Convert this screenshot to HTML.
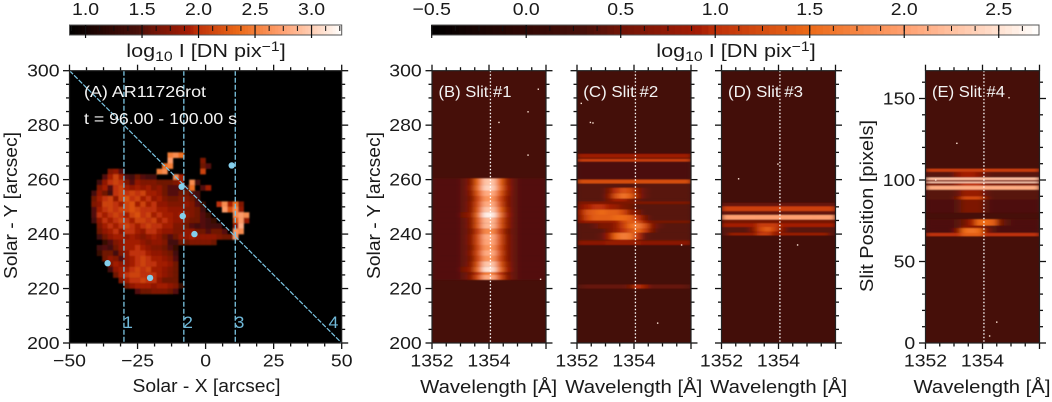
<!DOCTYPE html>
<html lang="en">
<head>
<meta charset="utf-8">
<title>Slit spectra panels</title>
<style>
html,body{margin:0;padding:0;background:#fff;width:1052px;height:402px;overflow:hidden}
svg{display:block}
text{font-family:"Liberation Sans",sans-serif;fill:#1a1a1a}
</style>
</head>
<body>
<svg id="figure" xmlns="http://www.w3.org/2000/svg" width="1052" height="402" viewBox="0 0 1052 402">
  <defs>
    <filter id="hblur" x="-10%" y="-2%" width="120%" height="104%"><feGaussianBlur stdDeviation="2.8 0.45"/></filter>
    <filter id="ablur" x="-5%" y="-5%" width="110%" height="110%"><feGaussianBlur stdDeviation="0.85"/></filter>
  </defs>
  <g id="layer"></g>
  <text transform="translate(206 57) scale(1.17 1)" text-anchor="middle" font-size="18.5">log<tspan font-size="13.5" dy="4">10</tspan><tspan dy="-4"> I [DN pix</tspan><tspan font-size="13.5" dy="-6">−1</tspan><tspan dy="6">]</tspan></text>
  <text transform="translate(736 57) scale(1.17 1)" text-anchor="middle" font-size="18.5">log<tspan font-size="13.5" dy="4">10</tspan><tspan dy="-4"> I [DN pix</tspan><tspan font-size="13.5" dy="-6">−1</tspan><tspan dy="6">]</tspan></text>
  <text x="206.5" y="392" text-anchor="middle" font-size="18.5" textLength="148" lengthAdjust="spacingAndGlyphs">Solar - X [arcsec]</text>
  <text transform="translate(17 205.5) rotate(-90)" text-anchor="middle" font-size="18.5" textLength="147" lengthAdjust="spacingAndGlyphs">Solar - Y [arcsec]</text>
  <text transform="translate(380 205.5) rotate(-90)" text-anchor="middle" font-size="18.5" textLength="147" lengthAdjust="spacingAndGlyphs">Solar - Y [arcsec]</text>
  <text transform="translate(873 206) rotate(-90)" text-anchor="middle" font-size="18.5" textLength="172" lengthAdjust="spacingAndGlyphs">Slit Position [pixels]</text>
  <text x="488.7" y="393" text-anchor="middle" font-size="18.5" textLength="137" lengthAdjust="spacingAndGlyphs">Wavelength [Å]</text>
  <text x="633.8" y="393" text-anchor="middle" font-size="18.5" textLength="137" lengthAdjust="spacingAndGlyphs">Wavelength [Å]</text>
  <text x="778.7" y="393" text-anchor="middle" font-size="18.5" textLength="137" lengthAdjust="spacingAndGlyphs">Wavelength [Å]</text>
  <text x="982" y="393" text-anchor="middle" font-size="18.5" textLength="137" lengthAdjust="spacingAndGlyphs">Wavelength [Å]</text>
  <text x="84" y="97" font-size="16" textLength="122" lengthAdjust="spacingAndGlyphs" style="fill:#f4f4f4">(A) AR11726rot</text>
  <text x="84" y="124" font-size="16" textLength="153" lengthAdjust="spacingAndGlyphs" style="fill:#f4f4f4">t = 96.00 - 100.00 s</text>
  <text x="438.5" y="97" font-size="16" textLength="73" lengthAdjust="spacingAndGlyphs" style="fill:#f4f4f4">(B) Slit #1</text>
  <text x="583.3" y="97" font-size="16" textLength="75" lengthAdjust="spacingAndGlyphs" style="fill:#f4f4f4">(C) Slit #2</text>
  <text x="728" y="97" font-size="16" textLength="75" lengthAdjust="spacingAndGlyphs" style="fill:#f4f4f4">(D) Slit #3</text>
  <text x="932" y="97" font-size="16" textLength="73" lengthAdjust="spacingAndGlyphs" style="fill:#f4f4f4">(E) Slit #4</text>
</svg>
<script>
// ---- colour bars ----
const barAMin = 0.858, barAMax = 3.267;
const barBMin = -0.5, barBMax = 2.713;
const barATicks = [1.0, 1.5, 2.0, 2.5, 3.0];
const barBTicks = [-0.5, 0.0, 0.5, 1.0, 1.5, 2.0, 2.5];

// ---- panel A ----
const xTicksA = [-50, -25, 0, 25, 50];
const yTicksA = [200, 220, 240, 260, 280, 300];
const imageFirstX = -42;
const imageTopY = 270;
const imageCellSize = 2;
// log10 I × 10, one row per 2 arcsec from Y=270 downward, one column per 2 arcsec from X=-42
const imageRows = [
[0,0,0,0,0,0,0,0,0,0,0,0,0,0,25,26,24],
[0,0,0,0,0,0,0,0,0,0,0,0,0,0,27,0,0,0,0,0,17],
[0,0,0,0,0,0,0,0,0,0,0,0,0,24,25,0,0,0,0,0,16,15],
[0,0,0,17,18,15,0,0,0,0,0,0,25,26,0,0,0,0,0,0,21],
[0,0,15,19,21,19,15,14,16,15,14,14,0,0,0,26,19],
[0,14,18,20,21,20,17,15,18,17,17,17,16,16,16,17,19,0,26,14],
[0,17,19,15,20,21,19,18,19,18,19,17,18,16,15,15,14,14,24,0,15,19],
[14,18,16,14,20,21,20,21,20,21,19,19,18,16,15,15,16,16,15,14],
[16,19,20,21,18,21,22,20,21,19,20,18,19,17,16,16,17,17,16,14],
[17,18,21,21,20,19,21,22,19,21,19,20,18,18,17,17,17,18,17,15,13,0,0,20,26,19,24,17],
[15,19,20,21,20,21,21,22,21,20,20,20,19,19,18,18,18,17,17,16,14,0,0,0,27,22,26,18],
[15,20,19,20,21,20,19,21,22,20,21,19,20,19,19,18,19,18,17,16,15,13,0,0,0,0,26,27,26],
[14,18,20,19,20,21,20,19,21,21,20,21,19,20,19,18,18,17,16,16,15,14,13,0,0,0,22,27,18],
[0,17,19,20,19,20,21,20,19,20,21,20,20,19,19,17,17,16,15,14,15,14,14,14,0,0,18,28],
[0,16,18,19,20,18,20,20,19,18,20,20,19,18,18,17,17,18,18,16,16,15,16,16,15,0,27,26],
[0,14,16,18,19,19,18,19,18,17,18,19,18,16,15,16,18,18,19,18,18,18,18,17,16,16,27],
[0,0,13,15,17,18,19,19,19,18,17,18,18,17,14,14,16,16,17,17,17,17,16],
[0,14,15,14,16,18,19,19,20,19,18,17,17,16,15,13],
[0,13,16,16,14,17,18,20,20,20,19,18,18,17,16,14],
[0,0,16,18,17,15,18,19,20,21,20,19,19,18,17,15],
[0,0,0,17,19,18,18,19,20,21,20,20,19,19,18,16],
[0,0,0,14,18,19,19,20,21,20,21,19,19,18,17,16],
[0,0,0,0,16,19,20,21,21,20,20,20,19,18,17,16],
[0,0,0,0,0,17,19,20,20,21,20,20,18,16,16,16],
[0,0,0,0,0,0,16,18,19,19,19,18,19,19,18,17,13],
[0,0,0,0,0,0,0,0,15,16,16,17,17,17,16,15]
];
const slitPositionsX = [-30, -8, 10.9];
const slitLabels = ["1", "2", "3", "4"];
const slitLabelX = [128, 188, 239.5, 333.5];
const diagonalStart = [-50, 300];
const diagonalEnd = [50, 200];
const markersX = [-36, -20.4, -4.1, -8.4, -8.8, 9.6];
const markersY = [229.3, 223.9, 240, 246.6, 257.4, 265.2];

// ---- spectral panels ----
const waveTicks = [1352, 1354, 1356];
const waveTickLabels = ["1352", "1354"];
const restWavelength = 1354.05;
const yTicksE = [0, 50, 100, 150];
// each row: [low, high, sixteen log10 I values across 1352–1356 Å]
const slit1Background = 0.27;
const slit1Rows = [
[258,260.5,[.35,.35,.35,.35,.45,.7,1.5,2.3,2.3,1.5,.8,.45,.35,.35,.35,.35]],
[256,258,[.35,.35,.35,.35,.45,.8,1.6,2.4,2.4,1.6,.9,.45,.35,.35,.35,.35]],
[254,256,[.35,.35,.35,.35,.45,.7,1.4,2.1,2.1,1.4,.8,.45,.35,.35,.35,.35]],
[252,254,[.35,.35,.35,.35,.45,.6,1.2,1.9,1.9,1.2,.7,.45,.35,.35,.35,.35]],
[250,252,[.35,.35,.35,.35,.45,.7,1.3,2.1,2.1,1.3,.7,.45,.35,.35,.35,.35]],
[248,250,[.35,.35,.35,.35,.45,.7,1.4,2.3,2.3,1.5,.8,.45,.35,.35,.35,.35]],
[246,248,[.35,.35,.35,.35,.6,.8,1.6,2.6,2.6,1.7,.9,.45,.35,.35,.35,.35]],
[244,246,[.35,.35,.35,.35,.45,.7,1.4,2.2,2.2,1.4,.8,.45,.35,.35,.35,.35]],
[242,244,[.35,.35,.35,.35,.45,.7,1.4,2.2,2.2,1.4,.8,.45,.35,.35,.35,.35]],
[240,242,[.35,.35,.35,.35,.45,.6,1.1,1.8,1.8,1.1,.6,.45,.35,.35,.35,.35]],
[238,240,[.35,.35,.35,.35,.45,.7,1.3,2.1,2.1,1.3,.7,.45,.35,.35,.35,.35]],
[236,238,[.35,.35,.35,.35,.45,.7,1.3,2.05,2.05,1.3,.7,.45,.35,.35,.35,.35]],
[234,236,[.35,.35,.35,.35,.45,.6,1.2,1.9,1.9,1.2,.7,.45,.35,.35,.35,.35]],
[232,234,[.35,.35,.35,.35,.45,.7,1.3,2.1,2.1,1.3,.7,.45,.35,.35,.35,.35]],
[230,232,[.35,.35,.35,.35,.45,.6,1.2,1.9,1.9,1.2,.7,.45,.35,.35,.35,.35]],
[228,230,[.35,.35,.35,.35,.45,.7,1.4,2.3,2.3,1.4,.8,.45,.35,.35,.35,.35]],
[226,228,[.35,.35,.35,.35,.6,.8,1.6,2.5,2.5,1.6,.9,.45,.35,.35,.35,.35]],
[225,226,[.35,.35,.35,.35,.45,.6,1.0,1.7,1.7,1.0,.6,.45,.35,.35,.35,.35]],
[223.2,225,[.35,.35,.35,.35,.45,.7,1.3,2.1,2.1,1.3,.7,.45,.35,.35,.35,.35]]
];
const slit1SpecksWave = [1355.73, 1355.37, 1354.35, 1355.37, 1355.81];
const slit1SpecksY = [293.2, 284.9, 281, 269, 223.4];

const slit2Background = 0.25;
const slit2Rows = [
[268,269.5,[.85,.85,.85,.85,.85,.85,.85,.85,.85,.85,.85,.85,.85,.85,.85,.85]],
[267.6,268,[.45,.45,.45,.45,.45,.45,.45,.45,.45,.45,.45,.45,.45,.45,.45,.45]],
[266.6,267.6,[1.1,1.1,1.1,1.1,1.1,1.1,1.1,1.1,1.1,1.1,1.1,1.1,1.1,1.1,1.1,1.1]],
[260,266.6,[.32,.32,.32,.32,.32,.32,.32,.32,.32,.32,.32,.32,.32,.32,.32,.32]],
[258.6,260,[1.25,1.25,1.25,1.25,1.25,1.25,1.25,1.25,1.25,1.25,1.25,1.25,1.25,1.25,1.25,1.25]],
[257,258.6,[.38,.38,.38,.38,.38,.38,.38,.38,.38,.38,.38,.38,.38,.38,.38,.38]],
[255,257,[.38,.38,.38,.38,.6,1.0,1.3,1.2,.7,.45,.38,.38,.38,.38,.38,.38]],
[253,255,[.38,.38,.38,.38,.7,1.3,1.6,1.4,.8,.45,.38,.38,.38,.38,.38,.38]],
[252,253,[.38,.38,.38,.38,.6,.9,.9,.6,.45,.38,.38,.38,.38,.38,.38,.38]],
[251,252,[.6,.6,.6,.6,.6,.6,.6,.6,.6,.6,.6,.6,.6,.6,.6,.6]],
[249,251,[.7,.9,1.0,1.0,.9,.8,.6,.5,.38,.38,.38,.38,.38,.38,.38,.38]],
[247,249,[.9,1.3,1.4,1.5,1.4,1.4,1.2,.8,.6,.38,.38,.38,.38,.38,.38,.38]],
[245,247,[.8,1.2,1.4,1.4,1.4,1.5,1.5,1.4,1.0,.6,.38,.38,.38,.38,.38,.38]],
[244,245,[.7,.8,.8,.8,.8,.9,1.2,1.4,1.3,.9,.55,.55,.55,.55,.55,.55]],
[242,244,[.38,.38,.45,.6,.6,.8,1.1,1.5,1.7,1.3,.7,.45,.38,.38,.38,.38]],
[240.5,242,[.38,.38,.38,.38,.6,.8,1.0,1.3,1.5,1.1,.6,.38,.38,.38,.38,.38]],
[238,240.5,[.38,.38,.38,.45,.9,1.5,1.7,1.6,1.0,.45,.38,.38,.38,.38,.38,.38]],
[237.5,238,[.45,.45,.45,.45,.6,.8,.9,.8,.6,.45,.45,.45,.45,.45,.45,.45]],
[236,237.5,[.7,.7,.7,.7,.8,.8,.8,.8,.8,.7,.7,.7,.7,.7,.7,.7]],
[220,221.5,[.4,.45,.45,.45,.45,.45,.45,.55,1.0,.8,.45,.45,.45,.45,.45,.4]]
];
const slit2SpecksWave = [1352.15, 1352.47, 1352.56, 1355.67, 1354.83];
const slit2SpecksY = [288, 281, 280.8, 236, 207.3];

const slit3Background = 0.23;
const slit3Rows = [
[250.2,251.5,[.45,.45,.45,.45,.45,.45,.45,.45,.45,.45,.45,.45,.45,.45,.45,.45]],
[248.4,250.2,[1.15,1.15,1.15,1.15,1.15,1.15,1.15,1.15,1.15,1.15,1.15,1.15,1.15,1.15,1.15,1.15]],
[247,248.4,[.45,.45,.45,.45,.45,.45,.45,.45,.45,.45,.45,.45,.45,.45,.45,.45]],
[245.3,247,[2.0,2.0,2.0,2.0,2.0,2.0,2.0,2.0,2.0,2.0,2.0,2.0,2.0,2.0,2.0,2.0]],
[244,245.3,[.55,.55,.55,.55,.55,.55,.55,.55,.55,.55,.55,.55,.55,.55,.55,.55]],
[242.6,244,[.9,.9,.9,.9,.9,1.1,1.1,1.1,.9,.9,.9,.9,.9,.9,.9,.9]],
[241,242.6,[.38,.38,.38,.38,.7,1.2,1.4,1.1,.7,.38,.38,.38,.38,.38,.38,.38]],
[240.5,241,[.38,.38,.38,.38,.6,1.0,1.2,.9,.6,.38,.38,.38,.38,.38,.38,.38]],
[239.5,240.5,[.38,.8,.8,.8,.8,1.1,1.1,.8,.8,.8,.8,.8,.8,.8,.8,.38]]
];
const slit3SpecksWave = [1353.98, 1352.6, 1354.67];
const slit3SpecksY = [265.7, 260.3, 236];

const slit4Background = 0.27;
const slit4Rows = [
[105,107,[1.1,1.1,1.1,1.1,1.1,1.1,1.1,1.1,1.1,1.1,1.1,1.1,1.1,1.1,1.1,1.1]],
[101.5,105,[.38,.38,.38,.38,.7,.9,.9,.7,.45,.38,.38,.38,.38,.38,.38,.38]],
[100,101.5,[2.25,2.25,2.25,2.25,2.25,2.25,2.25,2.25,2.25,2.25,2.25,2.25,2.25,2.25,2.25,2.25]],
[99,100,[.6,.6,.6,.6,.6,.6,.6,.6,.6,.6,.6,.6,.6,.6,.6,.6]],
[98,99,[2.35,2.35,2.35,2.35,2.35,2.35,2.35,2.35,2.35,2.35,2.35,2.35,2.35,2.35,2.35,2.35]],
[96.5,98,[.6,.6,.6,.6,.8,1.0,1.0,1.0,.7,.6,.6,.6,.6,.6,.6,.6]],
[94,96.5,[2.1,2.1,2.1,2.1,2.1,2.1,2.1,2.1,2.1,2.1,2.1,2.1,2.1,2.1,2.1,2.1]],
[90,94,[.38,.38,.38,.38,.45,.8,.8,.8,.45,.38,.38,.38,.38,.38,.38,.38]],
[88,90,[.38,.38,.38,.38,.6,1.2,1.2,1.2,.6,.38,.38,.38,.38,.38,.38,.38]],
[80,88,[.33,.33,.33,.33,.38,.6,.6,.6,.38,.33,.33,.33,.33,.33,.33,.33]],
[72,76,[.33,.33,.33,.33,.38,.5,.9,1.5,1.5,1.4,.6,.38,.33,.33,.33,.33]],
[70.5,72,[.33,.33,.33,.33,.38,.7,.7,.7,.45,.38,.33,.33,.33,.33,.33,.33]],
[67.5,70.5,[.33,.33,.33,.33,.7,1.5,1.6,1.5,.7,.38,.33,.33,.33,.33,.33,.33]],
[65.5,67.5,[1.0,1.0,1.0,1.0,1.0,1.4,1.4,1.4,1.0,1.0,1.0,1.0,1.0,1.0,1.0,1.0]]
];
const slit4SpecksWave = [1354.93, 1353.1, 1352.36, 1354.5, 1354.25];
const slit4SpecksY = [150.5, 122.5, 100, 12.8, 4.3];

// ---- helpers ----
const NS = "http://www.w3.org/2000/svg";
const layer = document.getElementById("layer");
const stopT = [0, .156, .25, .31, .44, .467, .623, .78, .935, 1];
const stopR = [0, 50, 72, 112, 165, 190, 236, 255, 255, 255];
const stopG = [0, 8, 16, 20, 28, 48, 106, 160, 226, 255];
const stopB = [0, 4, 10, 6, 4, 8, 24, 112, 210, 255];
function cmap(t) {
  t = Math.max(0, Math.min(1, t));
  let i = 0;
  while (i < stopT.length - 2 && t > stopT[i + 1]) i++;
  const f = (t - stopT[i]) / (stopT[i + 1] - stopT[i]);
  const c = a => Math.round(a[i] + (a[i + 1] - a[i]) * f);
  return "rgb(" + c(stopR) + "," + c(stopG) + "," + c(stopB) + ")";
}
function colorA(v) { return cmap((v - barAMin) / (barAMax - barAMin)); }
function colorB(v) { return cmap((v - barBMin) / (barBMax - barBMin)); }
function make(parent, tag, attrs) {
  const el = document.createElementNS(NS, tag);
  for (const k in attrs) el.setAttribute(k, attrs[k]);
  parent.appendChild(el);
  return el;
}
function line(parent, x1, y1, x2, y2, stroke, width, name) {
  const el = make(parent, "line", { x1: x1, y1: y1, x2: x2, y2: y2, stroke: stroke, "stroke-width": width });
  
  
  return el;
}
function label(parent, x, y, str, anchor, size, name, fill) {
  const el = make(parent, "text", { transform: "translate(" + x + " " + y + ") scale(1.08 1)", "text-anchor": anchor, "font-size": size });
  el.textContent = str;
  if (fill) el.style.fill = fill;
  
  
  return el;
}
function fmtMinus(v) { return String(v).replace("-", "−"); }

const TOP = 70.7, BOTTOM = 343;
const xA = X => 69.5 + (X + 50) * 2.722;
const yArc = Y => BOTTOM - (Y - 200) * 2.723;
const yPix = P => BOTTOM - P * 1.63;
const PANEL_W = 114;
const waveScale = x0 => w => x0 + (w - 1352) * (PANEL_W / 4);

function drawColorbar(x0, x1, vMin, vMax, ticks, colorFn, name) {
  const g = make(layer, "g", {});
  
  
  const xOf = v => x0 + (v - vMin) / (vMax - vMin) * (x1 - x0);
  const n = 90;
  for (let i = 0; i < n; i++) {
    const v = vMin + (i + .5) / n * (vMax - vMin);
    const r = make(g, "rect", { x: x0 + i / n * (x1 - x0), y: 25, width: (x1 - x0) / n + .4, height: 10, fill: colorFn(v) });
    
    
  }
  make(g, "rect", { x: x0, y: 25, width: x1 - x0, height: 10, fill: "none", stroke: "#555", "stroke-width": 1 });
  const step = ticks[1] - ticks[0];
  for (let v = ticks[0] - step; v <= vMax + 1e-6; v += step / 4) {
    if (v < vMin - 1e-6) continue;
    line(g, xOf(v), 26, xOf(v), 31, "#111", 1, "colorbar-minor-tick");
  }
  ticks.forEach(v => {
    line(g, xOf(v), 25, xOf(v), 38, "#111", 1.2, "colorbar-major-tick");
    label(g, xOf(v), 15, fmtMinus(v.toFixed(1)), "middle", 18, "colorbar-tick-label");
  });
}

function drawFrame(parent, x0, x1, xOf, xMajor, xMinorStep, xMin, xMax, yOf, yMajor, yMinorStep, yMin, yMax) {
  for (let v = xMin; v <= xMax + 1e-6; v += xMinorStep) {
    const major = xMajor.some(m => Math.abs(m - v) < 1e-6);
    const len = major ? 6 : 3.5;
    line(parent, xOf(v), TOP, xOf(v), TOP - len, "#111", 1.3, "x-tick-top");
    line(parent, xOf(v), BOTTOM, xOf(v), BOTTOM + len, "#111", 1.3, "x-tick-bottom");
  }
  for (let v = yMin; v <= yMax + 1e-6; v += yMinorStep) {
    const major = yMajor.some(m => Math.abs(m - v) < 1e-6);
    const len = major ? 6.5 : 3.5;
    line(parent, x0, yOf(v), x0 - len, yOf(v), "#111", 1.3, "y-tick-left");
    line(parent, x1, yOf(v), x1 + len, yOf(v), "#111", 1.3, "y-tick-right");
  }
  const f = make(parent, "rect", { x: x0, y: TOP, width: x1 - x0, height: BOTTOM - TOP, fill: "none", stroke: "#222", "stroke-width": 1.2 });
  
  
}

function drawPanelA() {
  const g = make(layer, "g", {});
  
  
  const bg = make(g, "rect", { x: xA(-50), y: TOP, width: xA(50) - xA(-50), height: BOTTOM - TOP, fill: "#000" });
  
  
  const cells = make(g, "g", { filter: "url(#ablur)" });
  imageRows.forEach((row, j) => {
    row.forEach((val, i) => {
      if (!val) return;
      const X = imageFirstX + i * imageCellSize;
      const Y = imageTopY - j * imageCellSize;
      const c = make(cells, "rect", {
        x: xA(X), y: yArc(Y),
        width: xA(X + imageCellSize) - xA(X) + .2,
        height: yArc(Y - imageCellSize) - yArc(Y) + .2,
        fill: colorA(val / 10)
      });
      
      
    });
  });
  const cyan = "#7cc6e4";
  slitPositionsX.forEach(X => {
    const l = line(g, xA(X), TOP, xA(X), BOTTOM, cyan, 1.3, "slit-line");
    l.setAttribute("stroke-dasharray", "5 2");
  });
  const d = line(g, xA(diagonalStart[0]), yArc(diagonalStart[1]), xA(diagonalEnd[0]), yArc(diagonalEnd[1]), cyan, 1.2, "slit-line-diagonal");
  d.setAttribute("stroke-dasharray", "5 1.5");
  markersX.forEach((X, i) => {
    const c = make(g, "circle", { cx: xA(X), cy: yArc(markersY[i]), r: 3.2, fill: "#84cfec" });
    
    
  });
  slitLabels.forEach((s, i) => {
    label(g, slitLabelX[i], 328, s, "middle", 16.5, "slit-number-label", "#6fb8d8");
  });
  drawFrame(g, xA(-50), xA(50), xA, xTicksA, 6.25, -50, 50, yArc, yTicksA, 5, 200, 300);
  xTicksA.forEach(v => {
    label(g, xA(v), 366.7, fmtMinus(v), "middle", 18, "x-tick-label");
  });
  yTicksA.forEach(v => {
    label(g, 59.5, yArc(v) + 6, String(v), "end", 18, "y-tick-label");
  });
}

function drawSpectrum(name, x0, rows, background, specksWave, specksPos, yOf, yMajor, yMinor, yMin, yMax, showY) {
  const g = make(layer, "g", {});
  
  
  const xOf = waveScale(x0);
  const clipId = name + "-clip";
  const cp = make(g, "clipPath", { id: clipId });
  make(cp, "rect", { x: x0, y: TOP, width: PANEL_W, height: BOTTOM - TOP });
  const body = make(g, "g", { "clip-path": "url(#" + clipId + ")" });
  const bg = make(body, "rect", { x: x0, y: TOP, width: PANEL_W, height: BOTTOM - TOP, fill: colorB(background) });
  
  
  const cells = make(body, "g", { filter: "url(#hblur)" });
  rows.forEach(r => {
    const low = r[0], high = r[1], vals = r[2];
    vals.forEach((v, i) => {
      const w0 = 1352 + i * 0.25;
      const c = make(cells, "rect", {
        x: xOf(w0), y: yOf(high),
        width: xOf(w0 + 0.25) - xOf(w0) + .3,
        height: yOf(low) - yOf(high) + .1,
        fill: colorB(v)
      });
      
      
    });
  });
  specksWave.forEach((w, i) => {
    const s = make(body, "rect", { x: xOf(w) - .7, y: yOf(specksPos[i]) - .7, width: 1.4, height: 1.4, fill: "#ffe6d8" });
    
    
  });
  const dl = line(body, xOf(restWavelength), TOP, xOf(restWavelength), BOTTOM, "#fff", 1.3, "rest-wavelength-line");
  dl.setAttribute("stroke-dasharray", "1.5 2");
  drawFrame(g, x0, x0 + PANEL_W, xOf, waveTicks, 0.5, 1352, 1356, yOf, yMajor, yMinor, yMin, yMax);
  waveTickLabels.forEach(s => {
    label(g, xOf(Number(s)), 366.7, s, "middle", 18, "wavelength-tick-label");
  });
  if (showY) {
    yMajor.forEach(v => {
      label(g, x0 - 10.3, yOf(v) + 6, String(v), "end", 18, "y-tick-label");
    });
  }
}

drawColorbar(69.5, 341.7, barAMin, barAMax, barATicks, colorA, "colorbar-panel-a");
drawColorbar(431.7, 1039, barBMin, barBMax, barBTicks, colorB, "colorbar-spectra");
drawPanelA();
drawSpectrum("panel-b-slit-1", 432, slit1Rows, slit1Background, slit1SpecksWave, slit1SpecksY, yArc, yTicksA, 5, 200, 300, true);
drawSpectrum("panel-c-slit-2", 577, slit2Rows, slit2Background, slit2SpecksWave, slit2SpecksY, yArc, yTicksA, 5, 200, 300, false);
drawSpectrum("panel-d-slit-3", 721.5, slit3Rows, slit3Background, slit3SpecksWave, slit3SpecksY, yArc, yTicksA, 5, 200, 300, false);
drawSpectrum("panel-e-slit-4", 925.5, slit4Rows, slit4Background, slit4SpecksWave, slit4SpecksY, yPix, yTicksE, 10, 0, 160, true);
</script>
</body>
</html>
